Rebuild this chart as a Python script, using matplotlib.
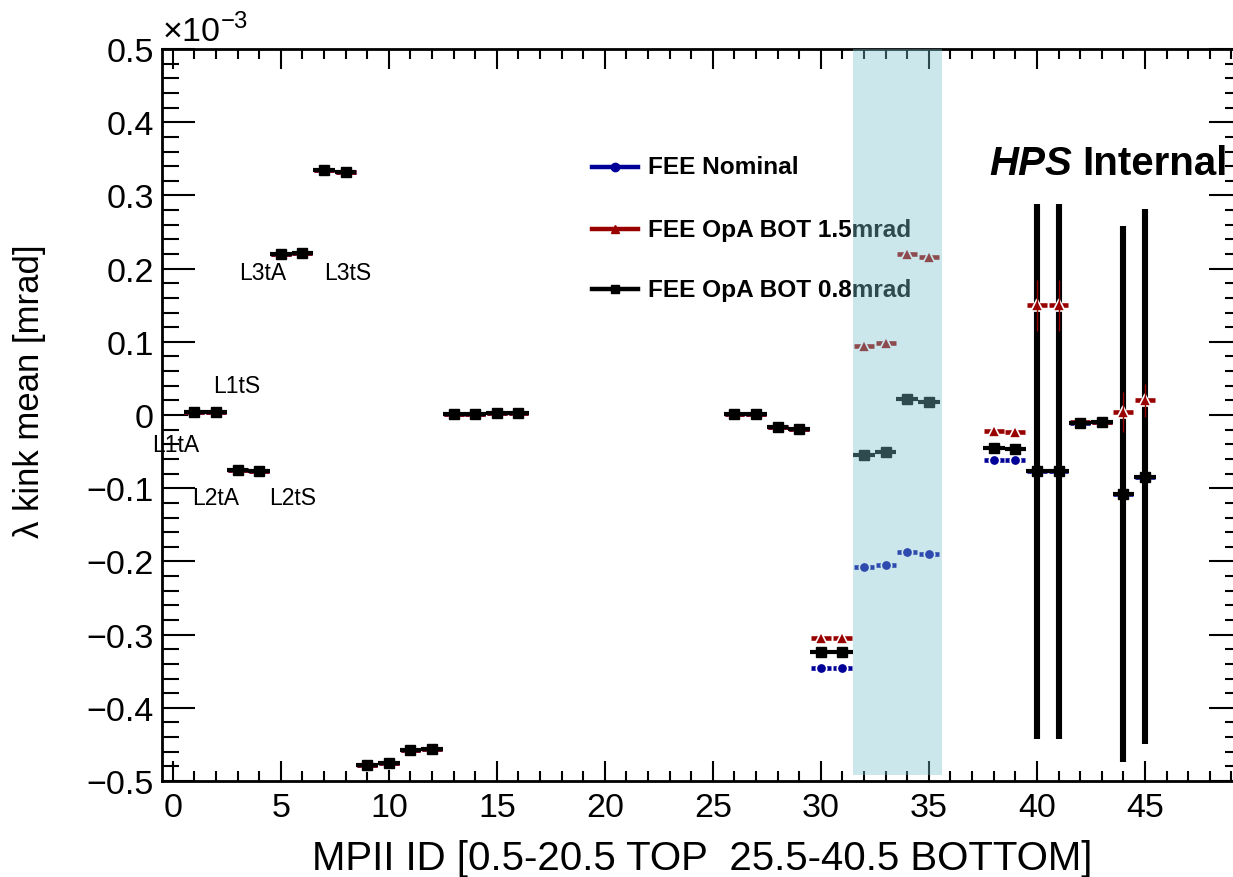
import matplotlib
matplotlib.use("Agg")
import matplotlib.pyplot as plt
from matplotlib.patches import Rectangle
from matplotlib.ticker import MultipleLocator, FuncFormatter

plt.rcParams['font.family'] = ['Liberation Sans', 'DejaVu Sans']
plt.rcParams['mathtext.fontset'] = 'custom'
plt.rcParams['mathtext.rm'] = 'Liberation Sans'

# MPII module ids (top 1-16, bottom 26-45)
mpii_id = [1, 2, 3, 4, 5, 6, 7, 8, 9, 10, 11, 12, 13, 14, 15, 16,
           26, 27, 28, 29, 30, 31, 32, 33, 34, 35,
           38, 39, 40, 41, 42, 43, 44, 45]

# lambda kink mean, in units of 1e-3 mrad
nominal = [0.004, 0.004, -0.075, -0.076, 0.220, 0.222, 0.335, 0.332,
           -0.478, -0.476, -0.458, -0.456, 0.002, 0.002, 0.003, 0.003,
           0.001, 0.001, -0.017, -0.019, -0.346, -0.346, -0.207, -0.205,
           -0.187, -0.190,
           -0.061, -0.062, -0.077, -0.077, -0.011, -0.009, -0.108, -0.084]
opa_15 = [0.004, 0.004, -0.075, -0.076, 0.220, 0.222, 0.335, 0.332,
          -0.478, -0.476, -0.458, -0.456, 0.002, 0.002, 0.003, 0.003,
          0.001, 0.001, -0.017, -0.019, -0.305, -0.305, 0.094, 0.098,
          0.220, 0.216,
          -0.022, -0.023, 0.150, 0.150, -0.010, -0.009, 0.004, 0.020]
opa_08 = [0.004, 0.004, -0.075, -0.076, 0.220, 0.222, 0.335, 0.332,
          -0.478, -0.476, -0.458, -0.456, 0.002, 0.002, 0.003, 0.003,
          0.001, 0.001, -0.017, -0.019, -0.324, -0.324, -0.055, -0.050,
          0.022, 0.018,
          -0.045, -0.046, -0.077, -0.077, -0.011, -0.009, -0.108, -0.084]

# errors on the mean
err_15 = [0.0] * 28 + [0.035, 0.035, 0.0, 0.0, 0.027, 0.022]
err_08 = [0.0] * 28 + [0.365, 0.365, 0.0, 0.0, 0.366, 0.366]

layer_labels = ['L1tA', 'L1tS', 'L2tA', 'L2tS', 'L3tA', 'L3tS']
layer_x = [0.15, 2.95, 2.0, 5.55, 4.15, 8.1]
layer_y = [-0.040, 0.040, -0.112, -0.112, 0.195, 0.195]

BLUE = '#000099'
RED = '#990000'

fig = plt.figure(figsize=(12.33, 8.78), dpi=100)
ax = fig.add_axes([0.1314, 0.1093, 0.876, 0.8337])

# nominal
ax.errorbar(mpii_id, nominal, xerr=0.46, fmt='o', color=BLUE, ms=7.5,
            mec='white', mew=1.2, elinewidth=3.3, capsize=0, zorder=3)
# 1.5 mrad
ax.errorbar(mpii_id, opa_15, xerr=0.46, fmt='^', color=RED, ms=8.5,
            mec='white', mew=1.2, elinewidth=3.3, capsize=0, zorder=3.2)
# 0.8 mrad
ax.errorbar(mpii_id, opa_08, xerr=0.5, fmt='s', color='black', ms=7.3,
            elinewidth=3.0, capsize=0, zorder=3.4)
ax.errorbar(mpii_id, opa_08, yerr=err_08, fmt='none', ecolor='black',
            elinewidth=4.4, capsize=0, zorder=3.3)
ax.errorbar(mpii_id, opa_15, yerr=err_15, fmt='none', ecolor=RED,
            elinewidth=1.0, capsize=0, zorder=3.5)

# legend drawn by hand
leg_y = [0.339, 0.254, 0.172]
leg_names = ['FEE Nominal', 'FEE OpA BOT 1.5mrad', 'FEE OpA BOT 0.8mrad']
leg_cols = [BLUE, RED, 'black']
leg_mk = ['o', '^', 's']
for yy, name, c, mk in zip(leg_y, leg_names, leg_cols, leg_mk):
    ax.plot([19.4, 21.55], [yy, yy], color=c, lw=3.2, zorder=2)
    ax.plot([20.47], [yy], marker=mk, color=c, ms=6, zorder=2)
    ax.text(22.0, yy, name, fontsize=17.6, fontweight='bold', va='center',
            ha='left', zorder=2)

for lab, xx, yy in zip(layer_labels, layer_x, layer_y):
    ax.text(xx, yy, lab, fontsize=16.5, ha='center', va='center',
            clip_on=False, zorder=4)

# shaded band over modules 32-35
ax.add_patch(Rectangle((31.5, -0.492), 4.1, 0.992, facecolor=(122/255, 195/255, 208/255),
                       alpha=0.385, edgecolor='none', zorder=6))

fig.text(0.802, 0.8007, 'HPS', fontsize=29, fontweight='bold', fontstyle='italic',
         ha='left', va='baseline')
fig.text(0.8775, 0.8007, 'Internal', fontsize=29, fontweight='bold',
         ha='left', va='baseline')

ax.set_xlim(-0.5, 49.5)
ax.set_ylim(-0.5, 0.5)
ax.xaxis.set_major_locator(MultipleLocator(5))
ax.xaxis.set_minor_locator(MultipleLocator(1))
ax.yaxis.set_major_locator(MultipleLocator(0.1))
ax.yaxis.set_minor_locator(MultipleLocator(0.02))
ax.yaxis.set_major_formatter(FuncFormatter(
    lambda v, p: '0' if abs(v) < 1e-9 else f'{v:.1f}'.replace('-', '\u2212')))

ax.tick_params(axis='both', which='both', direction='in', top=True, right=True,
               width=1.5, labelsize=24.5)
ax.tick_params(axis='x', which='major', length=14.5, pad=8)
ax.tick_params(axis='x', which='minor', length=7.5)
ax.tick_params(axis='y', which='major', length=24, pad=6)
ax.tick_params(axis='y', which='minor', length=12.5)
for s in ax.spines.values():
    s.set_linewidth(2)

fig.text(0.1314, 0.952, r'$\times10^{-3}$', fontsize=24.5, ha='left', va='baseline')
fig.text(0.5695, 0.022, 'MPII ID [0.5-20.5 TOP  25.5-40.5 BOTTOM]', fontsize=29,
         ha='center', va='center')
fig.text(0.024, 0.555, '\u03bb kink mean [mrad]', fontsize=25, rotation=90,
         ha='center', va='center')

fig.savefig('out.png', dpi=100)
